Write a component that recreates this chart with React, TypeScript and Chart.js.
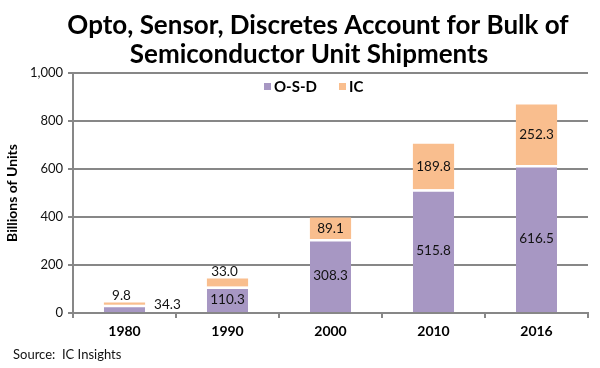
import React, { useEffect, useRef } from "react";
import { Chart, registerables } from "chart.js";

Chart.register(...registerables);

const categories = ["1980", "1990", "2000", "2010", "2016"];
const osdValues = [34.3, 110.3, 308.3, 515.8, 616.5];
const icValues = [9.8, 33.0, 89.1, 189.8, 252.3];
const seriesNames = ["O-S-D", "IC"];
const titleLines = ["Opto, Sensor, Discretes Account for Bulk of", "Semiconductor Unit Shipments"];
const yAxisTitle = "Billions of Units";
const sourceText = "Source:  IC Insights";
const yMax = 1000;
const yStep = 200;

const PURPLE = "#a797c3";
const ORANGE = "#f9be8e";
const GRID = "#878787";
const FONT = "Lato";

const drawPlugin = {
  id: "customDraw",
  beforeDraw(chart: any) {
    const ctx = chart.ctx;
    ctx.save();
    ctx.fillStyle = "#ffffff";
    ctx.fillRect(0, 0, chart.width, chart.height);
    ctx.restore();
  },
  afterDatasetsDraw(chart: any) {
    const ctx = chart.ctx;
    ctx.save();
    ctx.font = `13.5px ${FONT}`;
    ctx.fillStyle = "#111111";
    chart.data.datasets.forEach((ds: any, di: number) => {
      const meta = chart.getDatasetMeta(di);
      meta.data.forEach((bar: any, i: number) => {
        const p = bar.getProps(["x", "y", "base", "width"], true);
        const h = Math.abs(p.base - p.y);
        const txt = Number(ds.data[i]).toFixed(1);
        if (h >= 16) {
          ctx.textAlign = "center";
          ctx.textBaseline = "middle";
          ctx.fillText(txt, p.x, (p.y + p.base) / 2);
        } else if (di === 0) {
          ctx.textAlign = "left";
          ctx.textBaseline = "middle";
          ctx.fillText(txt, p.x + p.width / 2 + 9, (p.y + p.base) / 2 - 4);
        } else {
          ctx.textAlign = "center";
          ctx.textBaseline = "middle";
          ctx.fillText(txt, p.x - 3, p.y - 7);
        }
      });
    });
    ctx.restore();
  },
  afterDraw(chart: any) {
    const ctx = chart.ctx;
    ctx.save();
    // Title
    ctx.fillStyle = "#000000";
    ctx.font = `bold 26px ${FONT}`;
    ctx.textAlign = "center";
    ctx.textBaseline = "alphabetic";
    ctx.fillText(titleLines[0], 318, 34);
    ctx.fillText(titleLines[1], 309, 63);
    // Legend
    ctx.font = `bold 15px ${FONT}`;
    ctx.textAlign = "left";
    ctx.textBaseline = "middle";
    const legendY = 87;
    const entries = [
      { name: seriesNames[0], color: PURPLE, x: 264 },
      { name: seriesNames[1], color: ORANGE, x: 339 },
    ];
    entries.forEach((e) => {
      ctx.fillStyle = e.color;
      ctx.fillRect(e.x, legendY - 4, 7, 7);
      ctx.fillStyle = "#000000";
      ctx.fillText(e.name, e.x + 10, legendY);
    });
    // Source
    ctx.font = `13px ${FONT}`;
    ctx.fillStyle = "#111111";
    ctx.textBaseline = "middle";
    ctx.fillText(sourceText, 13, 355);
    ctx.restore();
  },
};

export default function App() {
  const ref = useRef<HTMLCanvasElement | null>(null);

  useEffect(() => {
    if (!ref.current) return;
    const chart = new Chart(ref.current, {
      type: "bar",
      data: {
        labels: categories,
        datasets: [
          {
            label: seriesNames[0],
            data: osdValues,
            backgroundColor: PURPLE,
            borderColor: "#ffffff",
            borderWidth: { top: 2.5, left: 0, right: 0, bottom: 0 },
            borderSkipped: false,
            categoryPercentage: 1,
            barPercentage: 0.4,
          },
          {
            label: seriesNames[1],
            data: icValues,
            backgroundColor: ORANGE,
            borderWidth: 0,
            categoryPercentage: 1,
            barPercentage: 0.4,
          },
        ],
      },
      options: {
        responsive: false,
        animation: false,
        devicePixelRatio: 1,
        layout: { padding: { top: 73, right: 12, left: 0, bottom: 0 } },
        plugins: {
          legend: { display: false },
          title: { display: false },
          tooltip: { enabled: false },
        },
        scales: {
          x: {
            stacked: true,
            afterFit: (s: any) => {
              s.height = 55;
            },
            grid: {
              offset: true,
              drawOnChartArea: false,
              drawTicks: true,
              tickLength: 5,
              color: GRID,
              lineWidth: 2,
            },
            border: { display: true, color: GRID, width: 2 },
            ticks: {
              color: "#000000",
              font: { family: FONT, size: 14, weight: "bold" },
              padding: 5,
            },
          },
          y: {
            stacked: true,
            min: 0,
            max: yMax,
            afterFit: (s: any) => {
              s.width = 73;
            },
            grid: {
              color: GRID,
              lineWidth: 2,
              drawTicks: true,
              tickLength: 5,
            },
            border: { display: true, color: GRID, width: 2 },
            ticks: {
              stepSize: yStep,
              color: "#111111",
              font: { family: FONT, size: 13 },
              padding: 5,
              callback: (v: any) => Number(v).toLocaleString("en-US"),
            },
            title: {
              display: true,
              text: yAxisTitle,
              color: "#000000",
              font: { family: FONT, size: 14, weight: "bold" },
              padding: { top: 4, bottom: 0 },
            },
          },
        },
      },
      plugins: [drawPlugin],
    });
    return () => chart.destroy();
  }, []);

  return (
    <div style={{ position: "absolute", left: 0, top: 0, width: 600, height: 368, background: "#fff" }}>
      <canvas ref={ref} width={600} height={368} style={{ display: "block" }} />
    </div>
  );
}
